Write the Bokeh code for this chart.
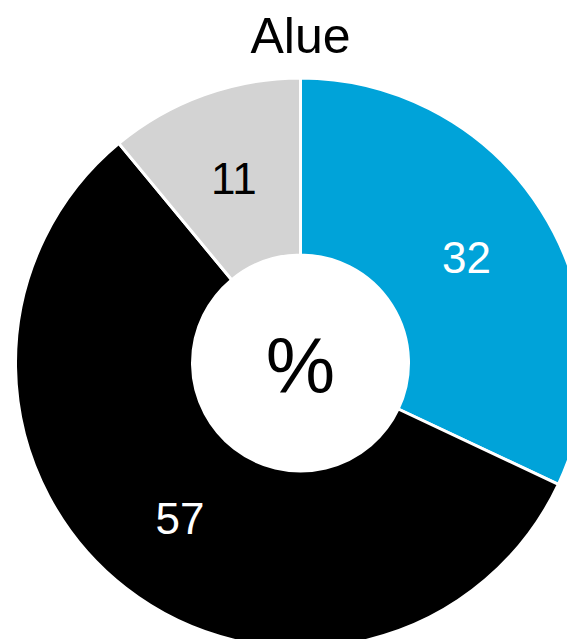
import math
from bokeh.plotting import figure
from bokeh.models import ColumnDataSource
from bokeh.core.properties import value
from bokeh.embed import file_html
from bokeh.resources import INLINE

# ---- data ----
title_text = "Alue"
center_text = "%"
categories = ["A", "B", "C"]
values = [32, 57, 11]
colors = ["#00A3D9", "#000000", "#D3D3D3"]
label_colors = ["#FFFFFF", "#FFFFFF", "#000000"]

W, H = 567, 639
p = figure(width=W, height=H, x_range=(0, W), y_range=(0, H),
           output_backend="svg", toolbar_location=None, min_border=0)
p.axis.visible = False
p.grid.visible = False
p.outline_line_color = None
p.background_fill_color = "white"

cx, cy = 300, 276.5
r_in, r_out = 108, 285

total = sum(values)
starts, ends, lx, ly, labels = [], [], [], [], []
cum = 0
for v in values:
    a0 = cum / total * 2 * math.pi
    a1 = (cum + v) / total * 2 * math.pi
    starts.append(math.pi / 2 - a0)
    ends.append(math.pi / 2 - a1)
    mid = (a0 + a1) / 2
    rm = (r_in + r_out) / 2
    lx.append(cx + rm * math.sin(mid))
    ly.append(cy + rm * math.cos(mid))
    labels.append(str(v))
    cum += v

src = ColumnDataSource(dict(start=starts, end=ends, color=colors,
                            lx=lx, ly=ly, label=labels, lcolor=label_colors))
p.annular_wedge(x=cx, y=cy, inner_radius=r_in, outer_radius=r_out,
                start_angle="start", end_angle="end", direction="clock",
                fill_color="color", line_color="white", line_width=3, source=src)
p.text(x="lx", y="ly", text="label", text_color="lcolor", source=src,
       text_font=value("Liberation Sans"), text_font_size="44px",
       text_align="center", text_baseline="middle")

p.text(x=[cx], y=[cy - 3], text=[center_text], text_color="black",
       text_font=value("Liberation Sans"), text_font_size="78px",
       text_align="center", text_baseline="middle")
p.text(x=[cx], y=[H - 35], text=[title_text], text_color="black",
       text_font=value("Liberation Sans"), text_font_size="50px",
       text_align="center", text_baseline="middle")

open("out.html", "w").write(file_html(p, INLINE))
